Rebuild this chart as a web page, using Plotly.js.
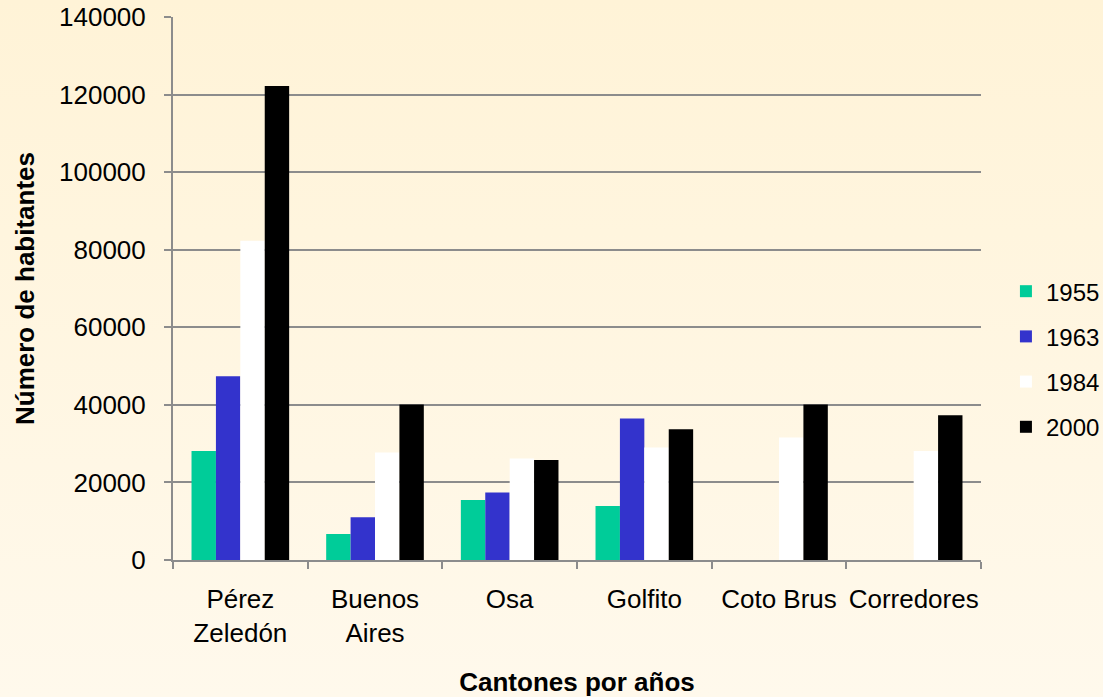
<!DOCTYPE html>
<html>
<head>
<meta charset="utf-8">
<script src="https://cdn.plot.ly/plotly-3.0.1.min.js"></script>
<style>
html,body{margin:0;padding:0;}
body{width:1103px;height:697px;background:linear-gradient(to bottom,#FFF3D7 0%,#FFF9EC 100%);}
#chart{width:1103px;height:697px;}
</style>
</head>
<body>
<div id="chart"></div>
<script>
const categories = ["Pérez<br>Zeledón", "Buenos<br>Aires", "Osa", "Golfito", "Coto Brus", "Corredores"];
const years = ["1955", "1963", "1984", "2000"];
const v1955 = [28100, 6700, 15500, 13900, 0, 0];
const v1963 = [47400, 11000, 17400, 36500, 0, 0];
const v1984 = [82300, 27700, 26200, 29000, 31600, 28100];
const v2000 = [122200, 40100, 25800, 33700, 40100, 37300];
const colors = ["#00CC99", "#3333CC", "#FFFFFF", "#000000"];
const series = [v1955, v1963, v1984, v2000];
const yTicks = [0, 20000, 40000, 60000, 80000, 100000, 120000, 140000];
const yTickText = ["0", "20000", "40000", "60000", "80000", "100000", "120000", "140000"];

const font = "Liberation Sans, Arial, sans-serif";
const traces = series.map((vals, i) => ({
  type: "bar",
  name: years[i],
  x: categories,
  y: vals,
  legendgroup: "g" + i,
  marker: {color: colors[i], line: {width: 0}},
  hoverinfo: "x+y+name"
}));

const layout = {
  width: 1103, height: 697,
  margin: {l: 173, r: 122, t: 17, b: 137},
  paper_bgcolor: "rgba(0,0,0,0)",
  plot_bgcolor: "rgba(0,0,0,0)",
  barmode: "group",
  bargap: 0.275,
  bargroupgap: 0,
  font: {family: font, size: 26, color: "#000"},
  xaxis: {
    tickson: "boundaries",
    ticks: "outside", ticklen: 7, tickcolor: "#8c8c8c", tickwidth: 2,
    showline: true, linecolor: "#8c8c8c", linewidth: 2,
    showgrid: false,
    tickangle: 0,
    ticklabelstandoff: 15,
    tickfont: {family: font, size: 26},
    title: {text: "<b>Cantones por años</b>", font: {family: font, size: 26}, standoff: 27}
  },
  yaxis: {
    range: [0, 140000],
    tickvals: yTicks,
    ticktext: yTickText,
    ticks: "outside", ticklen: 7, tickcolor: "#8c8c8c", tickwidth: 2,
    showline: true, linecolor: "#8c8c8c", linewidth: 2,
    showgrid: true, gridcolor: "#8c8c8c", gridwidth: 2,
    zeroline: false,
    ticklabelstandoff: 13,
    tickfont: {family: font, size: 26},
    title: {text: "<b>Número de habitantes</b>", font: {family: font, size: 26}, standoff: 17}
  },
  showlegend: true,
  legend: {
    xref: "container",
    x: 0.912, xanchor: "left", y: 0.37, yanchor: "middle",
    traceorder: "grouped", tracegroupgap: 11,
    bgcolor: "rgba(0,0,0,0)",
    font: {family: font, size: 24}
  }
};

Plotly.newPlot("chart", traces, layout, {displayModeBar: false});
</script>
</body>
</html>
